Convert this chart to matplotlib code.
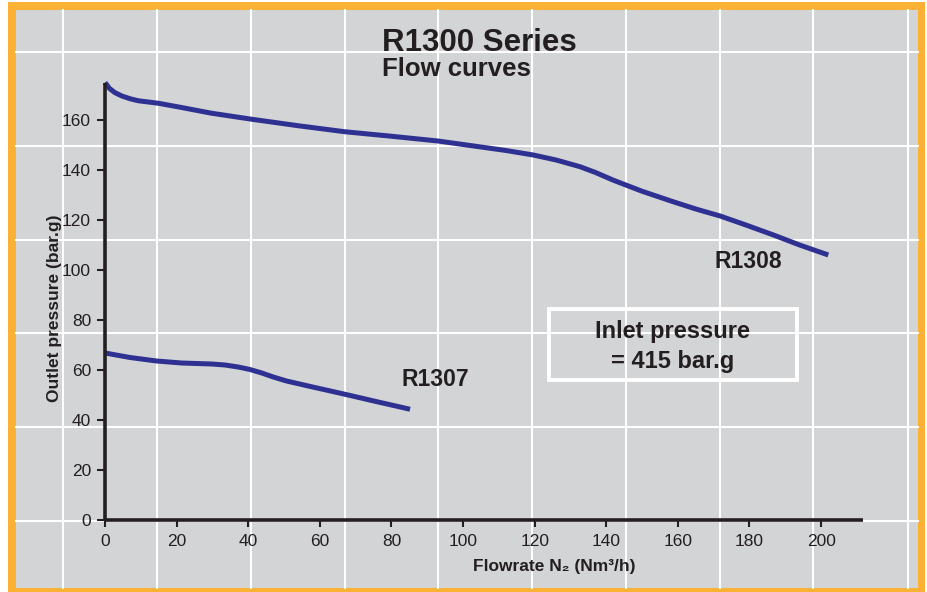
import matplotlib
matplotlib.use("Agg")
import matplotlib.pyplot as plt
from matplotlib.lines import Line2D
from matplotlib.patches import Rectangle

# ---- data ----
r1308_x = [0, 1.2, 2.7, 4.7, 7, 9.3, 14.9, 21, 29.8, 41, 54, 67, 80, 93, 103, 112, 119.6,
           126, 132.7, 137, 142, 150, 158.7, 165, 171.8, 179, 186.7, 194, 202]
r1308_y = [175.0, 172.7, 171.0, 169.6, 168.5, 167.7, 166.7, 165.1, 162.7, 160.3, 157.7, 155.3,
           153.5, 151.6, 149.6, 147.8, 146.0, 144.0, 141.3, 139.0, 135.9, 131.5, 127.3, 124.4,
           121.6, 118.0, 114.0, 110.0, 106.0]
r1307_x = [0, 7, 14.4, 21.4, 25.5, 29.8, 33.5, 37.2, 40.5, 43.8, 47, 50.7, 58, 67, 76, 85.2]
r1307_y = [66.8, 65.0, 63.6, 62.8, 62.6, 62.4, 62.0, 61.2, 60.2, 58.8, 57.2, 55.6, 53.2, 50.3,
           47.3, 44.3]
x_ticks = [0, 20, 40, 60, 80, 100, 120, 140, 160, 180, 200]
y_ticks = [0, 20, 40, 60, 80, 100, 120, 140, 160]

title = "R1300 Series"
subtitle = "Flow curves"
x_label = "Flowrate N\u2082 (Nm\u00b3/h)"
y_label = "Outlet pressure (bar.g)"
box_lines = ["Inlet pressure", "= 415 bar.g"]

W, H = 928, 592
BG = "#d3d4d6"
ORANGE = "#fbb133"
BLUE = "#2e3192"
INK = "#231f20"
BOLD = ["Liberation Sans", "DejaVu Sans"]
NARROW = ["Liberation Sans Narrow", "Liberation Sans"]

def fx(x):
    return x / W

def fy(y):
    return 1 - y / H

fig = plt.figure(figsize=(W / 100, H / 100), dpi=100)
fig.patch.set_facecolor("white")

# frame: orange border and gray panel
fig.add_artist(Rectangle((fx(8), fy(592)), fx(925) - fx(8), fy(2) - fy(592),
                         transform=fig.transFigure, facecolor=ORANGE, edgecolor="none", zorder=-10))
fig.add_artist(Rectangle((fx(16), fy(588)), fx(918) - fx(16), fy(10) - fy(588),
                         transform=fig.transFigure, facecolor=BG, edgecolor="none", zorder=-9))

# background white grid (decorative, fixed in the panel)
for gx in [63, 157, 251, 345, 438, 532, 626, 720, 813, 908]:
    fig.add_artist(Line2D([fx(gx), fx(gx)], [fy(588), fy(10)], transform=fig.transFigure,
                          color="white", lw=1.5, zorder=-8))
for gy in [52, 146, 240, 333, 427, 521]:
    fig.add_artist(Line2D([fx(16), fx(918)], [fy(gy), fy(gy)], transform=fig.transFigure,
                          color="white", lw=1.5, zorder=-8))

ax = fig.add_axes([fx(105), fy(520), fx(863) - fx(105), fy(83) - fy(520)])
ax.set_facecolor("none")
ax.set_xlim(0, 211.7)
ax.set_ylim(0, 174.8)

ax.plot(r1308_x, r1308_y, color=BLUE, lw=3.6, solid_capstyle="butt", solid_joinstyle="round", clip_on=False)
ax.plot(r1307_x, r1307_y, color=BLUE, lw=3.6, solid_capstyle="butt", solid_joinstyle="round", clip_on=False)

for s in ["top", "right"]:
    ax.spines[s].set_visible(False)
for s in ["left", "bottom"]:
    ax.spines[s].set_color(INK)
    ax.spines[s].set_linewidth(2.6)
    ax.spines[s].set_capstyle("butt")

ax.set_xticks(x_ticks)
ax.set_yticks(y_ticks)
ax.tick_params(axis="both", direction="out", color=INK, width=1.5, labelcolor=INK)
ax.tick_params(axis="x", length=5, pad=5)
ax.tick_params(axis="y", length=6, pad=4)
for lab in ax.get_xticklabels() + ax.get_yticklabels():
    lab.set_fontfamily(NARROW)
    lab.set_fontsize(12.5)

# titles
fig.text(fx(382), fy(51), title, family=BOLD, fontweight="bold", fontsize=22.5,
         color=INK, ha="left", va="baseline")
fig.text(fx(382), fy(76), subtitle, family=BOLD, fontweight="bold", fontsize=18.5,
         color=INK, ha="left", va="baseline")

# axis labels
fig.text(fx(55), fy(308), y_label, family=BOLD, fontweight="bold", fontsize=12.5,
         color=INK, rotation=90, ha="center", va="center")
fig.text(fx(554), fy(567), x_label, family=BOLD, fontweight="bold", fontsize=12.5,
         color=INK, ha="center", va="center")

# curve labels
ax.text(179.6, 103.6, "R1308", family=BOLD, fontweight="bold", fontsize=16.5,
        color=INK, ha="center", va="center")
ax.text(92.2, 56, "R1307", family=BOLD, fontweight="bold", fontsize=16.5,
        color=INK, ha="center", va="center")

# inlet pressure box
ax.add_patch(Rectangle((124, 56), 69.3, 28.4, facecolor="none", edgecolor="white",
                       lw=2.8, clip_on=False))
ax.text(158.4, 75.4, box_lines[0], family=BOLD, fontweight="bold", fontsize=17,
        color=INK, ha="center", va="center")
ax.text(158.4, 63.3, box_lines[1], family=BOLD, fontweight="bold", fontsize=17,
        color=INK, ha="center", va="center")

fig.savefig("out.png", dpi=100)
